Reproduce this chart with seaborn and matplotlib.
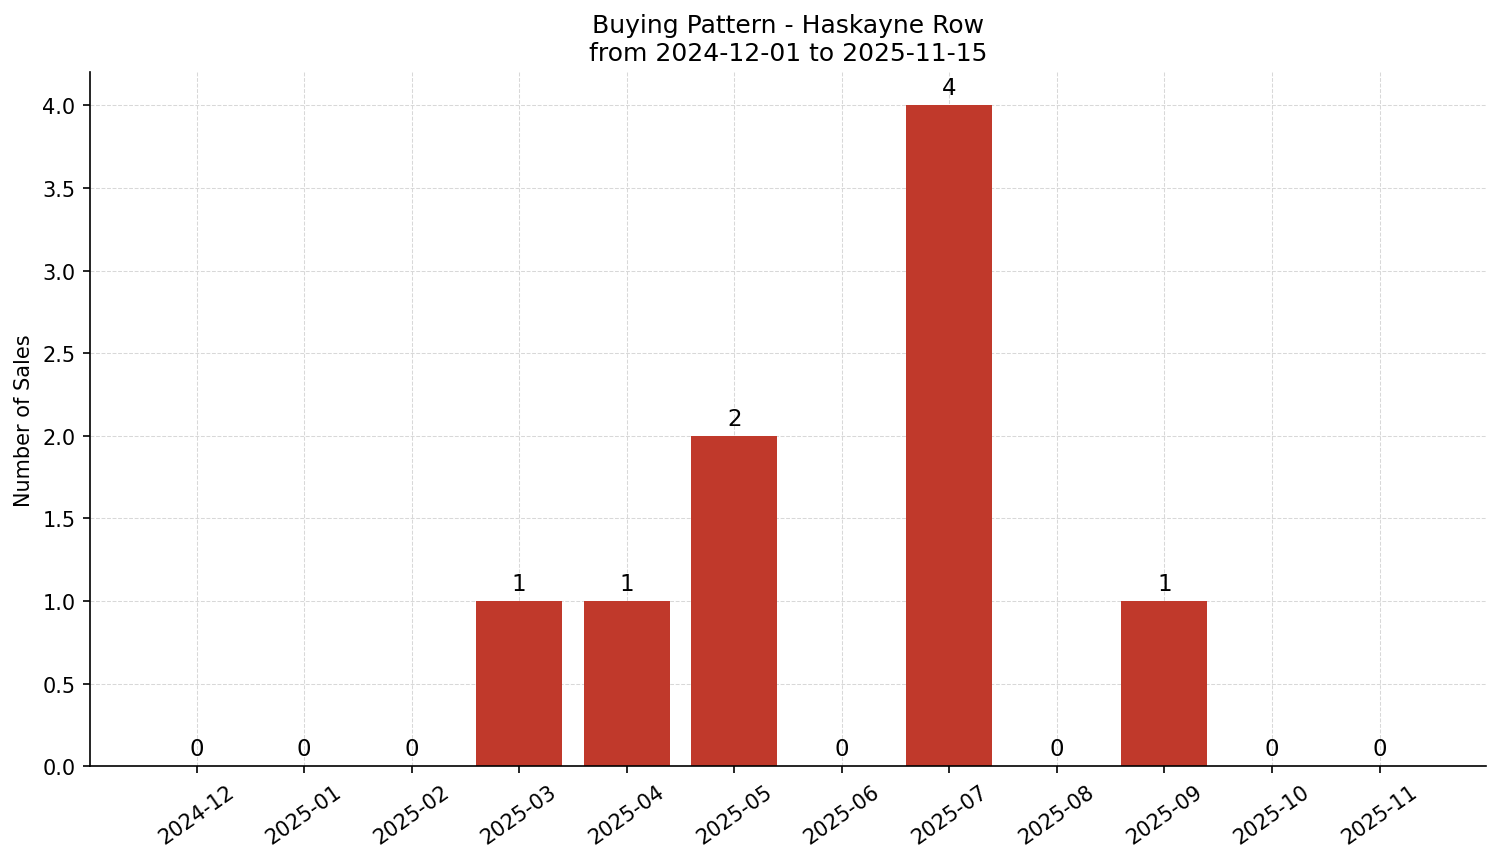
import pandas as pd
import seaborn as sns
from matplotlib import pyplot as plt

months = ['2024-12', '2025-01', '2025-02', '2025-03', '2025-04', '2025-05',
          '2025-06', '2025-07', '2025-08', '2025-09', '2025-10', '2025-11']
sales = [0, 0, 0, 1, 1, 2, 0, 4, 0, 1, 0, 0]

df = pd.DataFrame({'month': months, 'sales': sales})

plt.rcParams['font.family'] = ['DejaVu Sans']

fig, ax = plt.subplots(figsize=(10.007, 5.753), dpi=150)
sns.barplot(data=df, x='month', y='sales', color='#c0392b', saturation=1,
            width=0.8, linewidth=0, ax=ax, zorder=2)

for i, v in enumerate(sales):
    ax.annotate(str(v), (i, v), xytext=(0, 3), textcoords='offset points',
                ha='center', va='bottom', fontsize=11)

ax.set_xlim(-0.99, 11.99)
ax.set_ylim(0, 4.2)
ax.grid(True, linestyle='--', linewidth=0.5, color='#d8d8d8', zorder=0)
ax.set_axisbelow(True)
sns.despine(ax=ax)
ax.set_xlabel('')
ax.set_ylabel('Number of Sales', fontsize=10)
ax.tick_params(axis='both', labelsize=10)
plt.setp(ax.get_xticklabels(), rotation=35, ha='center')
ax.set_title('Buying Pattern - Haskayne Row\nfrom 2024-12-01 to 2025-11-15', fontsize=12)

fig.subplots_adjust(left=0.060, right=0.990, top=0.915, bottom=0.111)
fig.savefig('out.png', dpi=150)
